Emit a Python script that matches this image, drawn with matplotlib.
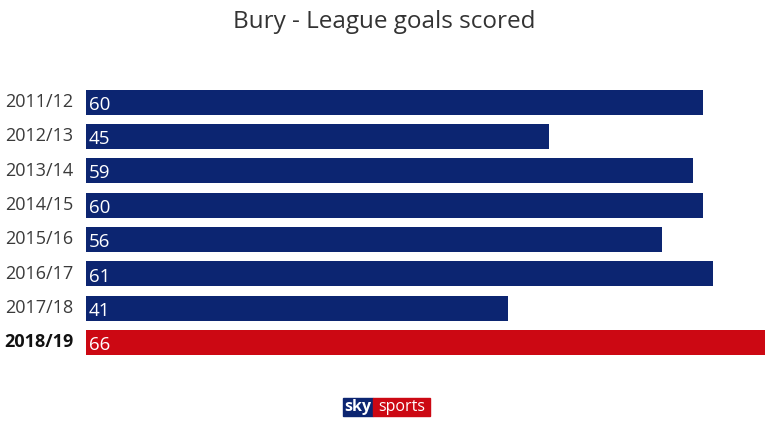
import matplotlib.pyplot as plt
from matplotlib.patches import Rectangle

seasons = ["2011/12", "2012/13", "2013/14", "2014/15", "2015/16", "2016/17", "2017/18", "2018/19"]
goals = [60, 45, 59, 60, 56, 61, 41, 66]

navy = "#0c2571"
red = "#cc0813"
plt.rcParams['font.family'] = ['Open Sans', 'DejaVu Sans']

fig = plt.figure(figsize=(7.68, 4.32), dpi=100)
ax = fig.add_axes([86 / 768, 0.1675, (764.6 - 86) / 768, 0.636])

ypos = list(range(len(seasons)))
colors = [red if s == "2018/19" else navy for s in seasons]
ax.barh(ypos, goals, height=0.73, color=colors)
ax.set_xlim(0, 66)
ax.set_ylim(len(seasons) - 0.5, -0.5)
ax.axis("off")

for y, s, g in zip(ypos, seasons, goals):
    last = s == "2018/19"
    ax.text(0.3, y + 0.08, str(g), color="white", fontsize=13.5, va="center", ha="left")
    ax.text(-1.2, y, s, color="#111111" if last else "#3a3a3a", fontsize=13,
            fontweight="bold" if last else "normal", va="center", ha="right")

fig.text(0.5, 0.95, "Bury - League goals scored", ha="center", va="center",
         fontsize=17.5, fontweight="medium", color="#333333")

# sky sports logo
fig.patches.append(Rectangle((343 / 768, 1 - 416 / 432), 30 / 768, 18 / 432,
                             transform=fig.transFigure, color=navy))
fig.patches.append(Rectangle((373 / 768, 1 - 416 / 432), 57 / 768, 18 / 432,
                             transform=fig.transFigure, color=red))
fig.text(358 / 768, 1 - 407 / 432, "sky", ha="center", va="center", fontsize=11.5,
         fontweight="bold", color="white")
fig.text(401.5 / 768, 1 - 407 / 432, "sports", ha="center", va="center", fontsize=11.5,
         color="white")

fig.savefig("out.png", dpi=100)
